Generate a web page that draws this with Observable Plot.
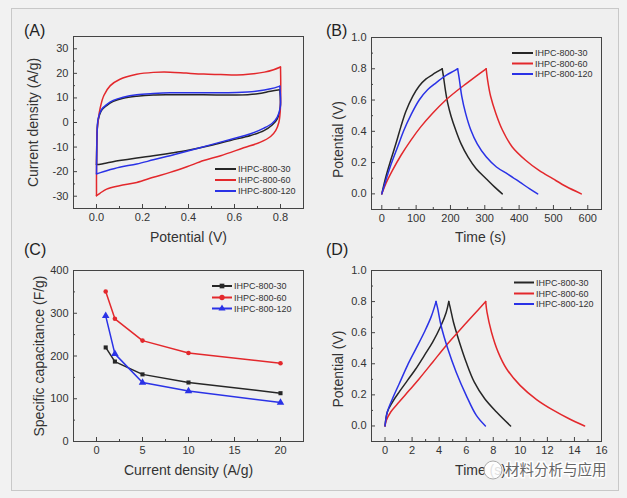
<!DOCTYPE html>
<html><head><meta charset="utf-8">
<script src="https://cdn.jsdelivr.net/npm/d3@7"></script>
<script src="https://cdn.jsdelivr.net/npm/@observablehq/plot@0.6"></script>
<style>
body{margin:0;background:#f2f2f2}
#wrap{position:relative;width:627px;height:498px;overflow:hidden;font-family:"Liberation Sans",Arial,sans-serif;background:#f2f2f2}
.frame{position:absolute;left:11px;top:8px;width:606px;height:481px;border:1px solid #c8c8c8;background:#efefef}
</style></head>
<body><div id="wrap"><div class="frame"></div></div>
<script>
// ---------- data ----------
const seriesNames = ["IHPC-800-30", "IHPC-800-60", "IHPC-800-120"];
const seriesColors = ["#262626", "#e3282c", "#2a32e6"];

// (A) CV curves: [potential V, current density A/g]
const cv30 = [[0,-17.1],[0.001,-10],[0.003,-3.3],[0.007,0.8],[0.022,4.9],[0.044,6.9],[0.073,8.6],[0.116,9.9],[0.175,10.7],[0.247,11.2],[0.32,11.3],[0.466,11.3],[0.61,11.2],[0.70,11.7],[0.757,12.7],[0.797,13.3],[0.799,6.3],[0.786,1.5],[0.764,-1],[0.728,-3.3],[0.67,-5.3],[0.582,-7.3],[0.495,-9.4],[0.393,-11.4],[0.32,-12.5],[0.247,-13.5],[0.175,-14.4],[0.10,-15.5],[0.044,-16.5],[0.007,-17.1],[0,-17.1]];
const cv60 = [[0,-29.8],[0.0,-20],[0.001,-10],[0.003,-3],[0.008,1.5],[0.017,6.3],[0.032,11],[0.06,15],[0.10,17.5],[0.175,19.6],[0.247,20.4],[0.32,20.5],[0.39,20.1],[0.466,19.7],[0.54,19.5],[0.61,19.3],[0.67,19.7],[0.73,20.5],[0.77,21.5],[0.80,22.6],[0.801,15],[0.799,4.9],[0.793,0.1],[0.779,-3.3],[0.757,-5.7],[0.713,-8],[0.64,-10.3],[0.54,-13.5],[0.466,-15.5],[0.393,-18],[0.32,-20.3],[0.247,-22.3],[0.175,-24.4],[0.10,-25.7],[0.044,-27.1],[0.015,-28.8],[0,-29.8]];
const cv120 = [[0,-20.9],[0.001,-12],[0.003,-3.3],[0.007,1.5],[0.022,5.3],[0.044,7.3],[0.073,9],[0.116,10.3],[0.175,11.3],[0.247,11.8],[0.32,12.1],[0.466,12.1],[0.61,12.2],[0.70,12.8],[0.757,13.7],[0.797,14.8],[0.799,6.3],[0.786,2.2],[0.764,-0.3],[0.728,-2.3],[0.67,-4.6],[0.582,-6.9],[0.495,-9.1],[0.393,-11.7],[0.32,-13.5],[0.247,-15.2],[0.175,-16.9],[0.10,-18.2],[0.044,-19.6],[0.007,-20.7],[0,-20.9]];

// (B) GCD curves: [time s, potential V]
const gcdB30 = [[0,0],[11.7,0.108],[26,0.215],[41,0.32],[55.6,0.43],[70,0.527],[90,0.624],[109,0.69],[129,0.735],[148,0.763],[163,0.783],[176,0.80],[179.5,0.753],[185,0.667],[192,0.58],[202,0.495],[215,0.41],[231,0.32],[251,0.237],[275,0.161],[304,0.097],[329,0.043],[351,0]];
const gcdB60 = [[0,0],[11.7,0.065],[31,0.15],[56,0.247],[85,0.344],[114,0.43],[148,0.516],[182,0.591],[217,0.656],[246,0.705],[275,0.753],[304,0.80],[308,0.731],[317,0.624],[332,0.516],[351,0.41],[380,0.30],[419,0.215],[458,0.15],[498,0.097],[537,0.047],[581,0]];
const gcdB120 = [[0,0],[11.7,0.086],[26,0.183],[46,0.30],[65,0.41],[85,0.505],[109,0.60],[134,0.667],[158,0.71],[187,0.757],[209,0.785],[221,0.80],[226,0.731],[233,0.624],[244,0.516],[259,0.41],[278,0.32],[304,0.237],[334,0.172],[368,0.125],[402,0.075],[431,0.032],[454,0]];

// (C) rate capability
const currentDensity = [1, 2, 5, 10, 20];
const cap30 = [220, 187, 157, 138, 113];
const cap60 = [351, 287, 236, 207, 183];
const cap120 = [294, 205, 138, 118, 91];

// (D) GCD curves: [time s, potential V]
const gcdD30 = [[0,0],[0.17,0.09],[0.55,0.154],[1.04,0.218],[1.66,0.293],[2.28,0.368],[2.9,0.453],[3.52,0.539],[4.14,0.646],[4.52,0.73],[4.71,0.80],[4.81,0.764],[5.06,0.667],[5.5,0.539],[6.0,0.41],[6.6,0.282],[7.37,0.175],[8.24,0.09],[9.28,0]];
const gcdD60 = [[0,0],[0.1,0.036],[0.42,0.09],[1.04,0.154],[1.79,0.229],[2.53,0.304],[3.52,0.41],[4.52,0.518],[5.5,0.614],[6.5,0.71],[7.44,0.80],[7.54,0.73],[7.87,0.603],[8.36,0.475],[8.98,0.368],[9.98,0.261],[11.2,0.17],[12.46,0.1],[13.57,0.048],[14.75,0]];
const gcdD120 = [[0,0],[0.17,0.09],[0.55,0.175],[1.04,0.27],[1.66,0.39],[2.28,0.496],[2.9,0.603],[3.4,0.70],[3.77,0.80],[3.9,0.753],[4.14,0.646],[4.64,0.496],[5.26,0.346],[6.0,0.197],[6.75,0.068],[7.42,0]];

// tick values
const ticksA_x = [0, 0.2, 0.4, 0.6, 0.8], minorA_x = [0.1, 0.3, 0.5, 0.7];
const ticksA_y = [-30, -20, -10, 0, 10, 20, 30], minorA_y = [-25, -15, -5, 5, 15, 25];
const ticksB_x = [0, 100, 200, 300, 400, 500, 600], minorB_x = [50, 150, 250, 350, 450, 550];
const ticksV = [0, 0.2, 0.4, 0.6, 0.8, 1.0], minorV = [0.1, 0.3, 0.5, 0.7, 0.9];
const ticksC_x = [0, 5, 10, 15, 20], minorC_x = [2.5, 7.5, 12.5, 17.5];
const ticksC_y = [0, 100, 200, 300, 400], minorC_y = [50, 150, 250, 350];
const ticksD_x = [0, 2, 4, 6, 8, 10, 12, 14, 16], minorD_x = [1, 3, 5, 7, 9, 11, 13, 15];

// ---------- drawing ----------
const FONT = '"Liberation Sans", Arial, sans-serif';
const AX = "#444", TXT = "#333";
const wrap = document.getElementById("wrap");
const f1 = d3.format(".1f");
const fi = d => String(d);
const X = d => d[0], Y = d => d[1];

function panel(c) {
  const fw = c.w - c.ml - c.mr, fh = c.h - c.mt - c.mb;
  const svg = Plot.plot({
    width: c.w, height: c.h,
    marginLeft: c.ml, marginRight: c.mr, marginTop: c.mt, marginBottom: c.mb,
    x: {domain: c.xDomain, ticks: c.xTicks, tickSize: 0, tickPadding: 5, tickFormat: c.xFmt, label: null},
    y: {domain: c.yDomain, ticks: c.yTicks, tickSize: 0, tickPadding: 5, tickFormat: c.yFmt, label: null},
    style: {fontFamily: FONT, fontSize: "11px", color: TXT, background: "none", overflow: "visible"},
    marks: [
      Plot.tickX(c.xTicks, {x: d => d, insetTop: fh - 4, stroke: AX}),
      Plot.tickX(c.xMinor, {x: d => d, insetTop: fh - 2, stroke: AX}),
      Plot.tickY(c.yTicks, {y: d => d, insetRight: fw - 4, stroke: AX}),
      Plot.tickY(c.yMinor, {y: d => d, insetRight: fw - 2, stroke: AX}),
      ...c.marks,
      Plot.frame({stroke: AX, strokeWidth: 1}),
      Plot.text([c.xLabel], {frameAnchor: "bottom", text: d => d, textAnchor: "middle", dx: c.xlDx || 0, dy: c.xlDy, lineAnchor: "middle", fontSize: 14, fill: TXT}),
      Plot.text([c.yLabel], {frameAnchor: "left", text: d => d, textAnchor: "middle", rotate: -90, dx: c.ylDx, dy: c.ylDy || 0, lineAnchor: "middle", fontSize: 14, fill: TXT})
    ]
  });
  svg.style.position = "absolute";
  svg.style.left = c.left + "px";
  svg.style.top = c.top + "px";
  wrap.appendChild(svg);
}

const lineOpts = i => ({x: X, y: Y, stroke: seriesColors[i], strokeWidth: 1.5, curve: "catmull-rom"});
// split a curve at its peak so the vertex stays sharp
function splitLines(data, i) {
  const k = d3.maxIndex(data, Y);
  return [Plot.line(data.slice(0, k + 1), lineOpts(i)), Plot.line(data.slice(k), lineOpts(i))];
}

panel({left: 0, top: 0, w: 313, h: 250, ml: 73, mr: 10, mt: 36, mb: 42,
  xDomain: [-0.1, 0.9], yDomain: [-35, 35], xTicks: ticksA_x, xMinor: minorA_x, yTicks: ticksA_y, yMinor: minorA_y,
  xFmt: f1, yFmt: fi, xLabel: "Potential (V)", yLabel: "Current density (A/g)", xlDy: 29, ylDx: -40,
  marks: [...splitLines(cv30, 0), ...splitLines(cv60, 1), ...splitLines(cv120, 2)]});

panel({left: 313, top: 0, w: 314, h: 250, ml: 58, mr: 26, mt: 37, mb: 41,
  xDomain: [-30, 640], yDomain: [-0.1, 1.0], xTicks: ticksB_x, xMinor: minorB_x, yTicks: ticksV, yMinor: minorV,
  xFmt: fi, yFmt: f1, xLabel: "Time (s)", yLabel: "Potential (V)", xlDy: 28, xlDx: -6, ylDx: -33, ylDy: 16,
  marks: [...splitLines(gcdB30, 0), ...splitLines(gcdB60, 1), ...splitLines(gcdB120, 2)]});

const capRows = (vals) => currentDensity.map((d, i) => [d, vals[i]]);
const symbols = ["square", "circle", "triangle"];
const capSeries = [cap30, cap60, cap120];
panel({left: 0, top: 250, w: 313, h: 248, ml: 73, mr: 10, mt: 20, mb: 57,
  xDomain: [-2.5, 22.5], yDomain: [0, 400], xTicks: ticksC_x, xMinor: minorC_x, yTicks: ticksC_y, yMinor: minorC_y,
  xFmt: fi, yFmt: fi, xLabel: "Current density (A/g)", yLabel: "Specific capacitance (F/g)", xlDy: 29, ylDx: -34,
  marks: capSeries.flatMap((s, i) => [
    Plot.line(capRows(s), {x: X, y: Y, stroke: seriesColors[i], strokeWidth: 1.5}),
    Plot.dot(capRows(s), {x: X, y: Y, symbol: symbols[i], r: i === 2 ? 2.8 : 2.3, fill: seriesColors[i], stroke: "none"})
  ])});

panel({left: 313, top: 250, w: 314, h: 248, ml: 58, mr: 26, mt: 20, mb: 57,
  xDomain: [-1, 16], yDomain: [-0.1, 1.0], xTicks: ticksD_x, xMinor: minorD_x, yTicks: ticksV, yMinor: minorV,
  xFmt: fi, yFmt: f1, xLabel: "Time (s)", yLabel: "Potential (V)", xlDy: 29, xlDx: -6, ylDx: -33, ylDy: 13,
  marks: [...splitLines(gcdD30, 0), ...splitLines(gcdD60, 1), ...splitLines(gcdD120, 2)]});

// ---------- overlay: panel letters, legends, watermark ----------
const ov = d3.select(wrap).append("svg")
  .attr("width", 627).attr("height", 498)
  .style("position", "absolute").style("left", "0px").style("top", "0px")
  .style("font-family", FONT);

[["(A)", 24, 36], ["(B)", 326, 36], ["(C)", 24, 255], ["(D)", 326, 255]].forEach(([t, x, y]) =>
  ov.append("text").attr("x", x).attr("y", y).attr("font-size", 16).attr("fill", "#222").text(t));

function legend(x0, x1, ys, markers) {
  seriesNames.forEach((name, i) => {
    const g = ov.append("g");
    g.append("line").attr("x1", x0).attr("x2", x1).attr("y1", ys[i]).attr("y2", ys[i])
      .attr("stroke", seriesColors[i]).attr("stroke-width", 2);
    if (markers) {
      const cx = (x0 + x1) / 2, cy = ys[i];
      g.append("path").attr("d", d3.symbol(d3[["symbolSquare", "symbolCircle", "symbolTriangle"][i]], 22)())
        .attr("transform", `translate(${cx},${cy})`).attr("fill", seriesColors[i]);
    }
    g.append("text").attr("x", x1 + 2).attr("y", ys[i]).attr("dy", "0.35em")
      .attr("font-size", 9).attr("fill", TXT).text(name);
  });
}
legend(215, 236, [169, 180, 191], false);
legend(512, 533, [53, 63.5, 74], false);
legend(212, 232, [286, 297.5, 308.5], true);
legend(514, 534, [282.5, 293.5, 304], false);

// watermark (covers part of the D x-axis title, as in the reference)
const wm = ov.append("g");
wm.append("circle").attr("cx", 493).attr("cy", 470).attr("r", 9).attr("fill", "rgba(255,255,255,0.85)").attr("stroke", "#aaa").attr("stroke-width", 1);
wm.append("text").attr("x", 505).attr("y", 470).attr("dy", "0.35em")
  .attr("font-family", '"Noto Sans CJK SC", sans-serif').attr("font-size", 14.5)
  .attr("fill", "#666").attr("stroke", "rgba(255,255,255,0.9)").attr("stroke-width", 3)
  .attr("paint-order", "stroke").text("材料分析与应用");
</script></body></html>
